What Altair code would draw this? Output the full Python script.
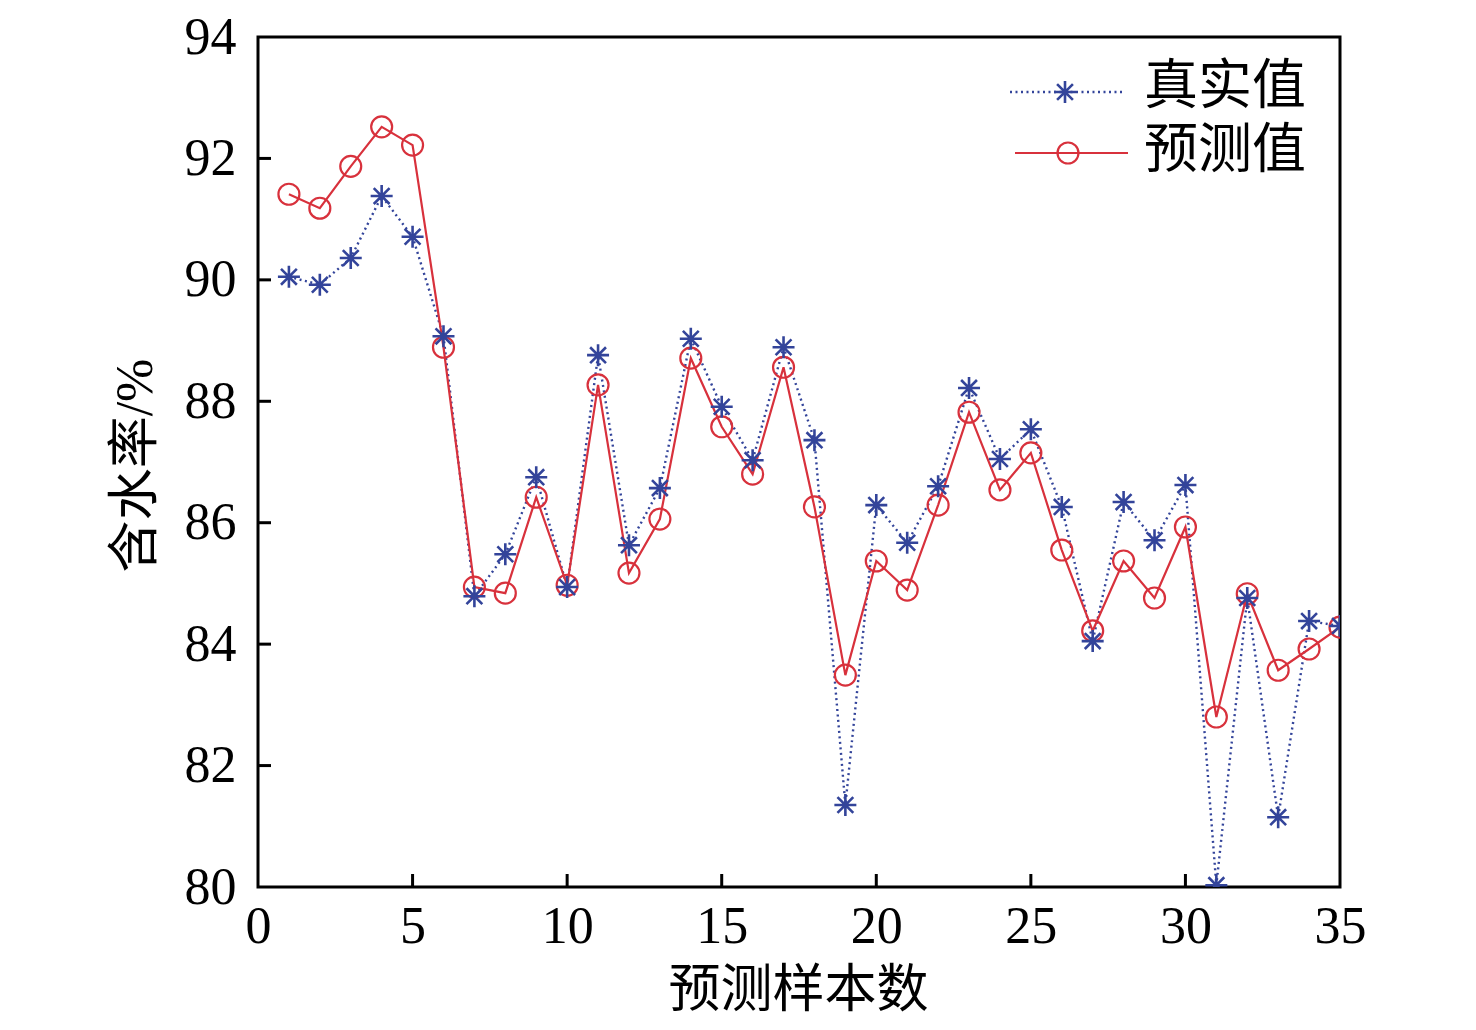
import altair as alt
import pandas as pd

samples = list(range(1, 36))
true_vals = [90.05, 89.92, 90.36, 91.38, 90.71, 89.07, 84.79, 85.48, 86.75, 84.94,
             88.76, 85.63, 86.57, 89.03, 87.91, 87.03, 88.89, 87.36, 81.35, 86.29,
             85.67, 86.60, 88.22, 87.05, 87.54, 86.26, 84.05, 86.34, 85.71, 86.62,
             80.03, 84.76, 81.15, 84.38, 84.30]
pred_vals = [91.41, 91.18, 91.87, 92.52, 92.22, 88.89, 84.94, 84.84, 86.42, 84.97,
             88.27, 85.17, 86.06, 88.71, 87.58, 86.80, 88.56, 86.26, 83.49, 85.37,
             84.89, 86.29, 87.82, 86.54, 87.15, 85.55, 84.22, 85.37, 84.76, 85.93,
             82.80, 84.83, 83.57, 83.92, 84.28]
x_ticks = [0, 5, 10, 15, 20, 25, 30, 35]
y_ticks = [80, 82, 84, 86, 88, 90, 92, 94]
legend_labels = ["真实值", "预测值"]

BLUE = "#33449a"
RED = "#d8313c"
FONT = "Liberation Serif, Noto Sans CJK SC"
STAR = "M0,-1L0,1M-1,0L1,0M-0.72,-0.72L0.72,0.72M-0.72,0.72L0.72,-0.72"

df_true = pd.DataFrame({"x": samples, "y": true_vals})
df_pred = pd.DataFrame({"x": samples, "y": pred_vals})

xs = alt.X("x:Q", scale=alt.Scale(domain=[0, 35], nice=False),
           axis=alt.Axis(values=x_ticks, title="预测样本数", titleX=540, titleY=103,
                         titleBaseline="middle", titleAlign="center",
                         labelPadding=14, labelFlush=False, format="d"))
ys = alt.Y("y:Q", scale=alt.Scale(domain=[80, 94], nice=False, zero=False),
           axis=alt.Axis(values=y_ticks, title="含水率/%", titleX=-123, titleY=428,
                         titleBaseline="middle", titleAlign="center", titleAngle=270,
                         labelPadding=22, labelFlush=False, format="d"))

base_t = alt.Chart(df_true)
base_p = alt.Chart(df_pred)

line_t = base_t.mark_line(color=BLUE, strokeWidth=2.4, strokeDash=[2, 3.5], clip=True).encode(x=xs, y=ys)
line_p = base_p.mark_line(color=RED, strokeWidth=2.2, clip=True).encode(x=xs, y=ys)
pts_p = base_p.mark_point(shape="circle", color=RED, filled=False, size=440, strokeWidth=2.2,
                          opacity=1, clip=True).encode(x=xs, y=ys)
pts_t = base_t.mark_point(shape=STAR, color=BLUE, filled=False, size=484, strokeWidth=2.6,
                          opacity=1, clip=True).encode(x=xs, y=ys)

xt = pd.DataFrame({"t": x_ticks[1:-1]})
yt = pd.DataFrame({"t": y_ticks[1:-1]})
xtick = alt.Chart(xt).mark_rule(color="black", strokeWidth=3).encode(
    x=alt.X("t:Q", scale=alt.Scale(domain=[0, 35], nice=False)),
    y=alt.value(850), y2=alt.value(837))
ytick = alt.Chart(yt).mark_rule(color="black", strokeWidth=3).encode(
    y=alt.Y("t:Q", scale=alt.Scale(domain=[80, 94], nice=False, zero=False)),
    x=alt.value(0), x2=alt.value(13))

one = pd.DataFrame({"a": [0]})
leg = alt.Chart(one)
leg_line1 = leg.mark_rule(color=BLUE, strokeWidth=2.4, strokeDash=[2, 3.5]).encode(
    x=alt.value(752), x2=alt.value(867), y=alt.value(55))
leg_star = leg.mark_point(shape=STAR, color=BLUE, filled=False, size=484, strokeWidth=2.6, opacity=1).encode(
    x=alt.value(807), y=alt.value(55))
leg_line2 = leg.mark_rule(color=RED, strokeWidth=2.2).encode(
    x=alt.value(757), x2=alt.value(870), y=alt.value(116))
leg_circ = leg.mark_point(shape="circle", color=RED, filled=False, size=440, strokeWidth=2.2, opacity=1).encode(
    x=alt.value(810), y=alt.value(116))
leg_t1 = leg.mark_text(text=legend_labels[0], font=FONT, fontSize=54, align="left", baseline="middle",
                       color="black").encode(x=alt.value(886), y=alt.value(51))
leg_t2 = leg.mark_text(text=legend_labels[1], font=FONT, fontSize=54, align="left", baseline="middle",
                       color="black").encode(x=alt.value(886), y=alt.value(115))

chart = alt.layer(
    line_t, line_p, pts_p, pts_t, xtick, ytick,
    leg_line1, leg_star, leg_line2, leg_circ, leg_t1, leg_t2
).properties(
    width=1082, height=850,
    autosize=alt.AutoSizeParams(type="none"),
    padding={"left": 250, "top": 29, "right": 128, "bottom": 130},
    background="white",
).configure_view(
    stroke="black", strokeWidth=3
).configure_axis(
    grid=False, ticks=False, domain=False,
    labelFont=FONT, labelFontSize=52, labelColor="black",
    titleFont=FONT, titleFontSize=52, titleColor="black", titleFontWeight="normal",
)

chart.save("out.html", embed_options={"renderer": "svg", "actions": False})
